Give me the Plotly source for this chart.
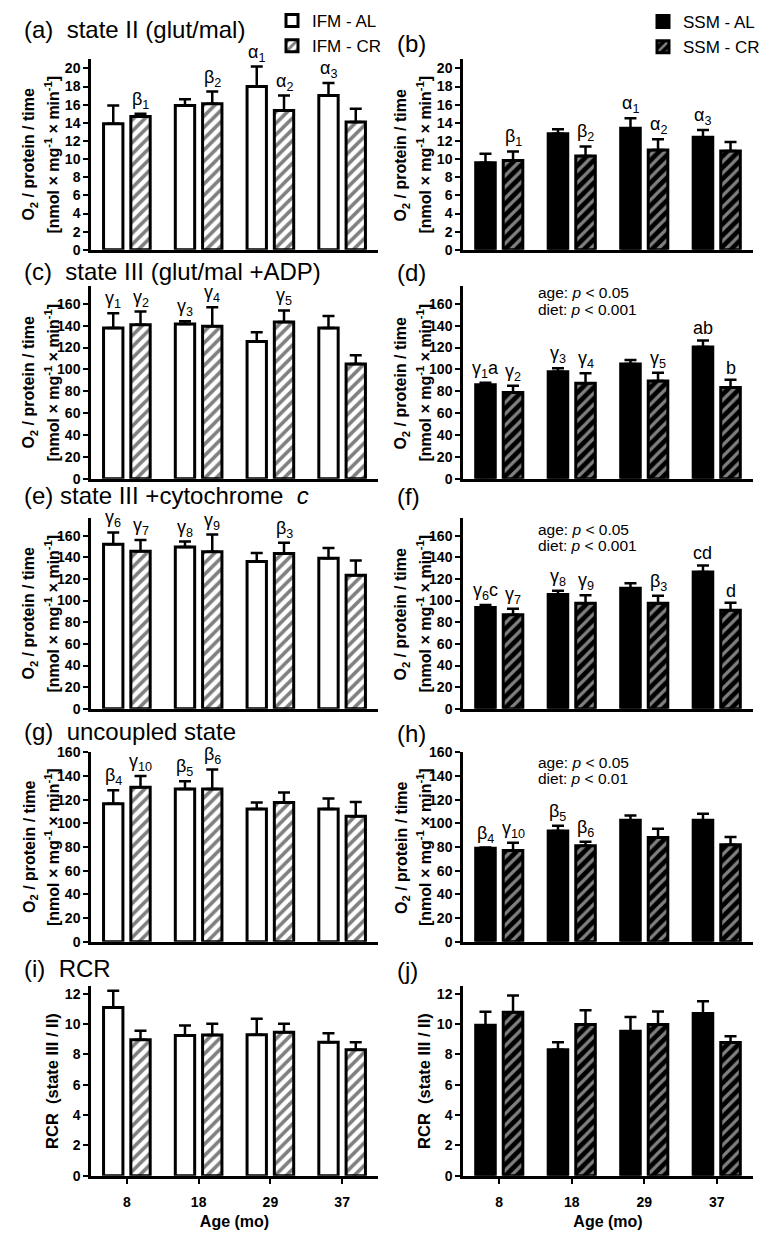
import plotly.graph_objects as go

# ---------------- data ----------------
ages = ["8", "18", "29", "37"]

# (a) IFM state II
ifm_s2_al = [13.9, 15.9, 18.0, 17.0]
ifm_s2_al_sem = [2.0, 0.7, 2.2, 1.4]
ifm_s2_cr = [14.7, 16.1, 15.35, 14.1]
ifm_s2_cr_sem = [0.3, 1.35, 1.65, 1.45]
# (b) SSM state II
ssm_s2_al = [9.6, 12.8, 13.4, 12.4]
ssm_s2_al_sem = [1.0, 0.5, 1.1, 0.8]
ssm_s2_cr = [9.85, 10.35, 11.0, 10.9]
ssm_s2_cr_sem = [1.0, 1.05, 1.2, 1.0]
# (c) IFM state III
ifm_s3_al = [138, 141.5, 125.5, 138]
ifm_s3_al_sem = [13.5, 2.5, 8.5, 11]
ifm_s3_cr = [141, 139.5, 143.5, 105]
ifm_s3_cr_sem = [12, 17.5, 10.5, 8]
# (d) SSM state III
ssm_s3_al = [86, 98, 105, 120.5]
ssm_s3_al_sem = [1.8, 3, 3.7, 6]
ssm_s3_cr = [79, 87.5, 89.5, 83.5]
ssm_s3_cr_sem = [6, 9, 7.5, 7]
# (e) IFM state III + cytochrome c
ifm_cyt_al = [152, 149.5, 136, 139]
ifm_cyt_al_sem = [11, 5, 8, 9.5]
ifm_cyt_cr = [145.5, 145, 143.5, 123.5]
ifm_cyt_cr_sem = [10.5, 16, 10, 13.5]
# (f) SSM state III + cytochrome c
ssm_cyt_al = [93.5, 105.5, 111.5, 126.5]
ssm_cyt_al_sem = [2.5, 3.5, 4.5, 6]
ssm_cyt_cr = [87, 97.5, 97.5, 91]
ssm_cyt_cr_sem = [5.5, 7.5, 7, 7]
# (g) IFM uncoupled
ifm_unc_al = [116.5, 129, 112, 112]
ifm_unc_al_sem = [11.5, 6.5, 5.5, 9]
ifm_unc_cr = [130.5, 129, 117.5, 106]
ifm_unc_cr_sem = [9.5, 16.5, 8.5, 12]
# (h) SSM uncoupled
ssm_unc_al = [79, 93.5, 102.5, 102.5]
ssm_unc_al_sem = [0.5, 4.5, 4, 5.5]
ssm_unc_cr = [77, 81, 88, 82]
ssm_unc_cr_sem = [6.5, 3.5, 7.5, 6.5]
# (i) IFM RCR
ifm_rcr_al = [11.1, 9.25, 9.3, 8.8]
ifm_rcr_al_sem = [1.1, 0.65, 1.05, 0.6]
ifm_rcr_cr = [8.96, 9.28, 9.46, 8.31]
ifm_rcr_cr_sem = [0.6, 0.75, 0.56, 0.5]
# (j) SSM RCR
ssm_rcr_al = [9.92, 8.3, 9.52, 10.7]
ssm_rcr_al_sem = [0.9, 0.5, 0.95, 0.8]
ssm_rcr_cr = [10.78, 9.98, 9.98, 8.79]
ssm_rcr_cr_sem = [1.1, 0.93, 0.85, 0.4]

titles = ["(a)  state II (glut/mal)", "(b)",
          "(c)  state III (glut/mal +ADP)", "(d)",
          "(e) state III +cytochrome  <i>c</i>", "(f)",
          "(g)  uncoupled state", "(h)",
          "(i)  RCR", "(j)"]

# significance marks: (age index, series, label)
marks_a = [(0, "CR", "β<sub>1</sub>"), (1, "CR", "β<sub>2</sub>"), (2, "AL", "α<sub>1</sub>"),
           (2, "CR", "α<sub>2</sub>"), (3, "AL", "α<sub>3</sub>")]
marks_b = marks_a
marks_c = [(0, "AL", "γ<sub>1</sub>"), (0, "CR", "γ<sub>2</sub>"), (1, "AL", "γ<sub>3</sub>"),
           (1, "CR", "γ<sub>4</sub>"), (2, "CR", "γ<sub>5</sub>")]
marks_d = [(0, "AL", "γ<sub>1</sub>a"), (0, "CR", "γ<sub>2</sub>"), (1, "AL", "γ<sub>3</sub>"),
           (1, "CR", "γ<sub>4</sub>"), (2, "CR", "γ<sub>5</sub>"), (3, "AL", "ab"), (3, "CR", "b")]
marks_e = [(0, "AL", "γ<sub>6</sub>"), (0, "CR", "γ<sub>7</sub>"), (1, "AL", "γ<sub>8</sub>"),
           (1, "CR", "γ<sub>9</sub>"), (2, "CR", "β<sub>3</sub>")]
marks_f = [(0, "AL", "γ<sub>6</sub>c"), (0, "CR", "γ<sub>7</sub>"), (1, "AL", "γ<sub>8</sub>"),
           (1, "CR", "γ<sub>9</sub>"), (2, "CR", "β<sub>3</sub>"), (3, "AL", "cd"), (3, "CR", "d")]
marks_g = [(0, "AL", "β<sub>4</sub>"), (0, "CR", "γ<sub>10</sub>"), (1, "AL", "β<sub>5</sub>"),
           (1, "CR", "β<sub>6</sub>")]
marks_h = marks_g

stats_d = ["age: <i>p</i> &lt; 0.05", "diet: <i>p</i> &lt; 0.001"]
stats_f = ["age: <i>p</i> &lt; 0.05", "diet: <i>p</i> &lt; 0.001"]
stats_h = ["age: <i>p</i> &lt; 0.05", "diet: <i>p</i> &lt; 0.01"]

# ---------------- layout helpers ----------------
W, H = 772, 1237
FONT = "Liberation Sans"
col_x = [(91, 378), (463, 753)]
row_y = [(52, 245), (282, 477), (517, 710), (754, 946), (991, 1183)]
row_max = [21, 176, 176, 160, 12.5]
row_dtick = [2, 20, 20, 20, 2]
title_y = [(22, 36), (267, 268), (494, 495), (733, 735), (973, 975)]
title_x = [22, 395]

def px(p):
    return p / W

def py(p):
    return 1 - p / H

panels = [
    (ifm_s2_al, ifm_s2_al_sem, ifm_s2_cr, ifm_s2_cr_sem, marks_a, None),
    (ssm_s2_al, ssm_s2_al_sem, ssm_s2_cr, ssm_s2_cr_sem, marks_b, None),
    (ifm_s3_al, ifm_s3_al_sem, ifm_s3_cr, ifm_s3_cr_sem, marks_c, None),
    (ssm_s3_al, ssm_s3_al_sem, ssm_s3_cr, ssm_s3_cr_sem, marks_d, (stats_d, 288)),
    (ifm_cyt_al, ifm_cyt_al_sem, ifm_cyt_cr, ifm_cyt_cr_sem, marks_e, None),
    (ssm_cyt_al, ssm_cyt_al_sem, ssm_cyt_cr, ssm_cyt_cr_sem, marks_f, (stats_f, 528)),
    (ifm_unc_al, ifm_unc_al_sem, ifm_unc_cr, ifm_unc_cr_sem, marks_g, None),
    (ssm_unc_al, ssm_unc_al_sem, ssm_unc_cr, ssm_unc_cr_sem, marks_h, (stats_h, 764)),
    (ifm_rcr_al, ifm_rcr_al_sem, ifm_rcr_cr, ifm_rcr_cr_sem, [], None),
    (ssm_rcr_al, ssm_rcr_al_sem, ssm_rcr_cr, ssm_rcr_cr_sem, [], None),
]

fig = go.Figure()
annotations = []
layout = {}
xs = list(range(len(ages)))
OFF = 0.19
BOLD = dict(family=FONT, color="black", weight="bold")

for n, (al, al_sem, cr, cr_sem, marks, stats) in enumerate(panels):
    row, col = divmod(n, 2)
    sfx = "" if n == 0 else str(n + 1)
    xa, ya = "x" + sfx, "y" + sfx
    ssm = col == 1
    tissue = "SSM" if ssm else "IFM"
    al_marker = dict(color="black" if ssm else "white", line=dict(color="black", width=3))
    if ssm:
        cr_marker = dict(color="black", line=dict(color="black", width=3),
                         pattern=dict(shape="/", fgcolor="white", bgcolor="black", size=8, solidity=0.4))
    else:
        cr_marker = dict(color="white", line=dict(color="black", width=3),
                         pattern=dict(shape="/", fgcolor="black", bgcolor="white", size=8, solidity=0.45))
    err = lambda s: dict(type="data", symmetric=False, array=s, arrayminus=[0] * len(s),
                         color="black", thickness=2.5, width=6)
    leg = "legend" if n == 0 else ("legend2" if n == 1 else None)
    for name, vals, sem, mk in ((f"{tissue} - AL", al, al_sem, al_marker),
                                (f"{tissue} - CR", cr, cr_sem, cr_marker)):
        kw = dict(legend=leg) if leg else {}
        fig.add_trace(go.Bar(x=xs, y=vals, error_y=err(sem), marker=mk, name=name,
                             xaxis=xa, yaxis=ya, showlegend=leg is not None, **kw))

    x0, x1 = col_x[col]
    y0, y1 = row_y[row]
    bottom = row == 4
    layout["xaxis" + sfx] = dict(
        domain=[px(x0), px(x1)], anchor=ya, range=[-0.5, 3.5],
        tickvals=xs, ticktext=ages, showticklabels=bottom,
        ticks="outside" if bottom else "", ticklen=6, tickwidth=2, tickcolor="black",
        ticklabelstandoff=6,
        showline=True, linewidth=2.5, linecolor="black", showgrid=False, zeroline=False,
        tickfont=dict(size=14, **BOLD),
        title=dict(text="Age (mo)" if bottom else "", standoff=7,
                   font=dict(size=16, **BOLD)),
    )
    layout["yaxis" + sfx] = dict(
        domain=[py(y1), py(y0)], anchor=xa, range=[0, row_max[row]], dtick=row_dtick[row],
        ticks="outside", ticklen=5, tickwidth=2, tickcolor="black",
        showline=True, linewidth=2.5, linecolor="black", showgrid=False, zeroline=False,
        tickfont=dict(size=14, **BOLD),
    )

    # panel title
    annotations.append(dict(text=titles[n], x=px(title_x[col]), y=py(title_y[row][col]),
                            xref="paper", yref="paper", xanchor="left", yanchor="middle",
                            showarrow=False, font=dict(family=FONT, size=24, color="black")))
    # y-axis labels
    ymid = py((y0 + y1) / 2)
    if bottom:
        annotations.append(dict(text="RCR  (state III / II)", x=px(x0 - 39), y=ymid,
                                xref="paper", yref="paper", textangle=-90, showarrow=False,
                                xanchor="center", yanchor="middle",
                                font=dict(size=16.5, **BOLD)))
    else:
        for dx, txt in ((61, "O<sub>2</sub> / protein / time"),
                        (39, "[nmol × mg<sup>-1</sup> × min<sup>-1</sup>]")):
            annotations.append(dict(text=txt, x=px(x0 - dx), y=ymid,
                                    xref="paper", yref="paper", textangle=-90, showarrow=False,
                                    xanchor="center", yanchor="middle",
                                    font=dict(size=16, **BOLD)))
    # significance marks
    for i, series, lab in marks:
        if series == "AL":
            xv, top = i - OFF, al[i] + al_sem[i]
        else:
            xv, top = i + OFF, cr[i] + cr_sem[i]
        annotations.append(dict(text=lab, x=xv, y=top, xref=xa, yref=ya, xanchor="center",
                                yanchor="bottom", showarrow=False, yshift=0,
                                font=dict(family=FONT, size=18, color="black")))
    # statistics text
    if stats:
        lines, ytop = stats
        for k, line in enumerate(lines):
            annotations.append(dict(text=line, x=px(536), y=py(ytop + 17 * k),
                                    xref="paper", yref="paper", xanchor="left", yanchor="middle",
                                    showarrow=False, font=dict(family=FONT, size=15.5, color="black")))

legend_common = dict(xanchor="left", yanchor="top", bgcolor="rgba(0,0,0,0)", tracegroupgap=0,
                     itemwidth=30, font=dict(family=FONT, size=17, color="black"), traceorder="normal")
layout["legend"] = dict(x=px(272), y=py(-5), **legend_common)
layout["legend2"] = dict(x=px(643), y=py(-4), **legend_common)

fig.update_layout(
    width=W, height=H, margin=dict(l=0, r=0, t=0, b=0),
    paper_bgcolor="white", plot_bgcolor="white",
    barmode="group", bargap=0.24, bargroupgap=0.29,
    font=dict(family=FONT, color="black"),
    annotations=annotations, **layout,
)

fig.write_html("out.html", config={"displayModeBar": False},
               post_script="document.body.style.margin='0px';")
